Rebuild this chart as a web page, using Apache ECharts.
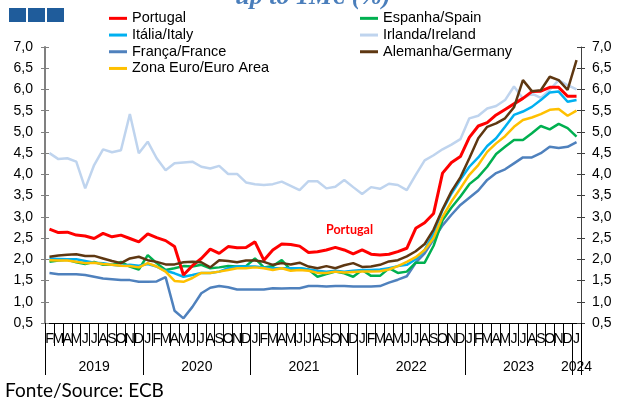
<!DOCTYPE html>
<html>
<head>
<meta charset="utf-8">
<script src="https://cdn.jsdelivr.net/npm/echarts@6/dist/echarts.min.js"></script>
<style>
html, body { margin: 0; padding: 0; background: #fff; }
#chart { width: 618px; height: 401px; }
</style>
</head>
<body>
<div id="chart"></div>
<script>
// month initials, Feb 2019 .. Jan 2024
var months = 'FMAMJJASOND' + 'JFMAMJJASOND' + 'JFMAMJJASOND' + 'JFMAMJJASOND' + 'JFMAMJJASOND' + 'J';
months = months.split('');
var years = ['2019', '2020', '2021', '2022', '2023', '2024'];
var monthsInYear = [11, 12, 12, 12, 12, 1];
var yTicks = [0.5, 7];

var portugal = [2.71, 2.63, 2.64, 2.57, 2.55, 2.49, 2.61, 2.53, 2.57, 2.49, 2.41, 2.60,
    2.51, 2.44, 2.30, 1.63, 1.85, 2.02, 2.24, 2.14, 2.30, 2.27, 2.28, 2.41,
    1.98, 2.22, 2.36, 2.35, 2.31, 2.16, 2.18, 2.22, 2.28, 2.22, 2.13, 2.22,
    2.12, 2.10, 2.12, 2.18, 2.26, 2.73, 2.86, 3.08, 4.03, 4.28, 4.42, 4.87,
    5.14, 5.22, 5.40, 5.53, 5.66, 5.79, 5.95, 5.96, 6.05, 6.05, 5.84, 5.84];
var ireland = [4.50, 4.36, 4.38, 4.30, 3.67, 4.22, 4.59, 4.52, 4.57, 5.42, 4.50, 4.77,
    4.38, 4.10, 4.26, 4.28, 4.30, 4.18, 4.14, 4.20, 4.01, 4.01, 3.81, 3.77,
    3.75, 3.77, 3.83, 3.73, 3.63, 3.84, 3.84, 3.67, 3.71, 3.87, 3.70, 3.54,
    3.70, 3.66, 3.78, 3.75, 3.63, 3.99, 4.33, 4.45, 4.59, 4.70, 4.83, 5.32,
    5.38, 5.55, 5.61, 5.75, 6.07, 5.79, 5.90, 5.80, 5.99, 6.22, 6.10, 6.00];
var germany = [2.06, 2.09, 2.11, 2.12, 2.08, 2.08, 2.02, 1.96, 1.91, 2.02, 2.06, 1.98,
    1.94, 1.88, 1.88, 1.93, 1.94, 1.93, 1.81, 1.98, 1.96, 1.93, 1.97, 1.97,
    1.94, 1.87, 1.91, 1.88, 1.92, 1.83, 1.79, 1.84, 1.79, 1.86, 1.91, 1.82,
    1.83, 1.87, 1.95, 1.98, 2.07, 2.19, 2.36, 2.70, 3.18, 3.60, 3.93, 4.38,
    4.85, 5.12, 5.20, 5.32, 5.58, 6.22, 5.96, 5.98, 6.30, 6.22, 5.99, 6.69];
var italy = [2.02, 2.01, 2.00, 2.00, 1.96, 1.92, 1.91, 1.87, 1.85, 1.87, 1.85, 1.89,
    1.83, 1.73, 1.67, 1.59, 1.63, 1.68, 1.68, 1.71, 1.79, 1.83, 1.83, 1.83,
    1.81, 1.79, 1.79, 1.79, 1.79, 1.76, 1.73, 1.71, 1.73, 1.71, 1.73, 1.75,
    1.75, 1.76, 1.79, 1.84, 1.87, 2.00, 2.22, 2.61, 3.16, 3.55, 3.88, 4.18,
    4.40, 4.67, 4.85, 5.12, 5.40, 5.48, 5.59, 5.75, 5.93, 5.95, 5.71, 5.75];
var spain = [1.94, 1.97, 1.99, 1.93, 1.89, 1.94, 1.87, 1.87, 1.94, 1.83, 1.76, 2.10,
    1.91, 1.75, 1.79, 1.84, 1.83, 1.87, 1.79, 1.81, 1.84, 1.83, 1.84, 2.02,
    1.81, 1.84, 1.98, 1.75, 1.79, 1.76, 1.59, 1.65, 1.71, 1.67, 1.59, 1.75,
    1.61, 1.61, 1.79, 1.68, 1.71, 1.92, 1.92, 2.32, 2.92, 3.22, 3.48, 3.77,
    3.94, 4.18, 4.48, 4.65, 4.81, 4.81, 4.97, 5.14, 5.06, 5.19, 5.09, 4.89];
var euroArea = [1.98, 1.97, 1.97, 1.94, 1.91, 1.92, 1.89, 1.87, 1.85, 1.84, 1.81, 1.91,
    1.83, 1.71, 1.49, 1.47, 1.56, 1.68, 1.68, 1.71, 1.75, 1.79, 1.79, 1.81,
    1.79, 1.75, 1.79, 1.73, 1.75, 1.73, 1.68, 1.68, 1.71, 1.69, 1.70, 1.71,
    1.71, 1.72, 1.76, 1.84, 1.94, 2.05, 2.22, 2.50, 3.00, 3.36, 3.67, 3.99,
    4.22, 4.53, 4.73, 4.90, 5.12, 5.28, 5.34, 5.42, 5.52, 5.54, 5.38, 5.50];
var france = [1.68, 1.65, 1.65, 1.65, 1.63, 1.59, 1.55, 1.53, 1.51, 1.51, 1.47, 1.47,
    1.48, 1.58, 0.79, 0.61, 0.88, 1.20, 1.33, 1.37, 1.34, 1.29, 1.29, 1.29,
    1.29, 1.32, 1.31, 1.32, 1.32, 1.37, 1.37, 1.36, 1.37, 1.37, 1.36, 1.36,
    1.36, 1.37, 1.45, 1.52, 1.60, 1.92, 2.14, 2.47, 2.80, 3.05, 3.28, 3.45,
    3.62, 3.87, 4.03, 4.12, 4.26, 4.40, 4.40, 4.50, 4.65, 4.62, 4.65, 4.76];

var chart = echarts.init(document.getElementById('chart'));

// year boundaries and label positions, counted in months
var yearEdges = [0];
monthsInYear.forEach(function (n, i) { yearEdges.push(yearEdges[i] + n); });
var yearMids = years.map(function (y, i) { return (yearEdges[i] + yearEdges[i + 1]) / 2; });

function fmt(v) { return v.toFixed(1).replace('.', ','); }

function yAx(pos, inside, labels) {
    return {
        type: 'value', position: pos, min: yTicks[0], max: yTicks[1], interval: 0.5,
        axisLine: { show: !inside, lineStyle: { color: pos == 'left' ? '#808080' : '#404040', width: pos == 'left' ? 2 : 1 } },
        axisTick: { show: true, inside: inside, length: 4, lineStyle: { color: pos == 'left' ? '#808080' : '#404040' } },
        axisLabel: { show: labels, formatter: fmt, fontSize: 14, color: '#000', margin: pos == 'left' ? 12 : 11 },
        splitLine: { show: false }
    };
}

function line(name, data, color, w) {
    return {
        name: name, type: 'line', data: data, symbol: 'none', xAxisIndex: 0, yAxisIndex: 0,
        lineStyle: { color: color, width: w || 2.5 }, itemStyle: { color: color }
    };
}

var legendText = { fontSize: 14.5, lineHeight: 16.7, color: '#000' };

var option = {
    animation: false,
    textStyle: { fontFamily: 'Liberation Sans' },
    grid: { left: 45, right: 37, top: 47, bottom: 78 },
    legend: [{
        left: 104, top: 5, orient: 'vertical', icon: 'rect', itemWidth: 18, itemHeight: 3, itemGap: 0,
        textStyle: legendText,
        data: ['Portugal', 'Itália/Italy', 'França/France', 'Zona Euro/Euro Area']
    }, {
        left: 355, top: 5, orient: 'vertical', icon: 'rect', itemWidth: 18, itemHeight: 3, itemGap: 0,
        textStyle: legendText,
        data: ['Espanha/Spain', 'Irlanda/Ireland', 'Alemanha/Germany']
    }],
    xAxis: [{
        type: 'category', position: 'bottom', data: months, boundaryGap: true,
        axisLine: { onZero: false, lineStyle: { color: '#000', width: 1 } },
        axisTick: { show: true, interval: 0, length: 23, lineStyle: { color: '#000', width: 1 } },
        axisLabel: { interval: 0, fontSize: 14, color: '#000', margin: 9 }
    }, {
        // year separators and labels
        type: 'value', position: 'bottom', min: 0, max: months.length,
        axisLine: { show: false, onZero: false },
        axisTick: { customValues: yearEdges, length: 52, lineStyle: { color: '#000' } },
        axisLabel: {
            customValues: yearMids, fontSize: 14, color: '#000', margin: 37,
            formatter: function (v) { return years[yearMids.indexOf(v)]; }
        },
        splitLine: { show: false }
    }],
    yAxis: [yAx('left', false, true), yAx('left', true, false), yAx('right', false, true), yAx('right', true, false)],
    graphic: [
        { type: 'rect', left: 9, top: 8, shape: { width: 17, height: 14 }, style: { fill: '#1F5C9B' } },
        { type: 'rect', left: 28, top: 8, shape: { width: 17, height: 14 }, style: { fill: '#1F5C9B' } },
        { type: 'rect', left: 47, top: 8, shape: { width: 17, height: 14 }, style: { fill: '#1F5C9B' } },
        { type: 'text', x: 313, y: 10, style: { text: 'up to 1M€ (%)', font: 'italic bold 26px "Liberation Serif"', fill: '#4A7EBB', align: 'center', verticalAlign: 'bottom' } },
        { type: 'text', x: 326, y: 230, style: { text: 'Portugal', font: 'bold 12.5px Lato', fill: '#FF0000', verticalAlign: 'middle' } },
        { type: 'text', x: 5, y: 391, style: { text: 'Fonte/Source: ECB', font: '19px Lato', fill: '#000', verticalAlign: 'middle' } }
    ],
    series: [
        line('Irlanda/Ireland', ireland, '#BFD4EE'),
        line('França/France', france, '#4F81BD'),
        line('Espanha/Spain', spain, '#00B050'),
        line('Itália/Italy', italy, '#00B0F0'),
        line('Zona Euro/Euro Area', euroArea, '#FFC000'),
        line('Portugal', portugal, '#FF0000', 3),
        line('Alemanha/Germany', germany, '#5E3711')
    ]
};
chart.setOption(option);
</script>
</body>
</html>
